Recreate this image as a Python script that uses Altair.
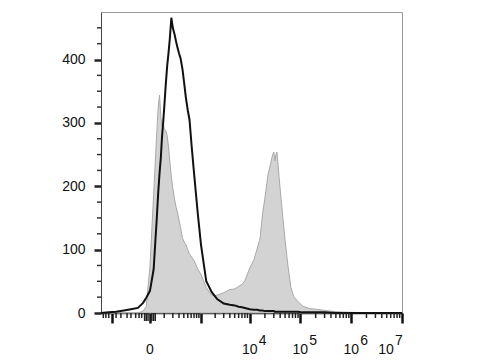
import altair as alt
import pandas as pd

# fluorescence intensity bins (data units)
intensity = [-900, -600, -400, -250, -150, -80, -40, -20, 0, 20,
             40, 50, 60, 70, 80, 90, 100, 115, 130, 145,
             160, 180, 200, 225, 250, 275, 300, 330, 370, 410,
             450, 500, 550, 620, 700, 850, 1000, 1300, 1700, 2200,
             3000, 4000, 5000, 6000, 7000, 8000, 10000, 12000, 14000, 16000,
             18000, 20000, 23000, 26000, 28000, 30000, 31500, 33000, 34500, 36000,
             38000, 40000, 45000, 50000, 57000, 65000, 75000, 90000, 110000, 150000,
             200000, 300000, 500000, 1000000, 3000000, 10000000]

# black outlined histogram
black_counts = [0, 1, 2, 4, 6, 8, 16, 24, 35, 69,
                150, 190, 221, 245, 278, 300, 324, 360, 390, 410,
                432, 466, 450, 440, 428, 418, 410, 402, 385, 362,
                340, 320, 305, 262, 221, 157, 108, 50, 33, 22,
                15, 13, 12, 10, 9, 8, 6, 5, 5, 4,
                4, 3, 3, 3, 3, 3, 2, 2, 2, 2,
                2, 2, 2, 2, 2, 2, 2, 2, 1, 1,
                1, 1, 0, 0, 0, 0]

# grey filled histogram
grey_counts = [0, 0, 0, 0, 0, 0, 3, 10, 73, 187,
               285, 325, 344, 310, 295, 300, 290, 288, 280, 262,
               240, 215, 196, 180, 167, 158, 147, 135, 118, 112,
               108, 100, 93, 88, 83, 69, 61, 40, 28, 28,
               32, 37, 38, 42, 45, 51, 71, 83, 101, 118,
               157, 182, 218, 236, 248, 254, 240, 250, 254, 238,
               215, 196, 152, 115, 74, 40, 25, 18, 11, 7,
               6, 4, 2, 1, 0, 0]

# axis ticks
x_major = [-500, 0, 1000, 10000, 100000, 1000000, 10000000]
x_medium = [-30, -20, -10, 10, 20, 30]
x_minor = [-800, -700, -600, -400, -300, -200, -150, -100, -70, -50,
           100, 200, 300, 400, 500, 600, 700, 800, 900,
           2000, 3000, 4000, 5000, 6000, 7000, 8000, 9000,
           20000, 30000, 40000, 50000, 60000, 70000, 80000, 90000,
           200000, 300000, 400000, 500000, 600000, 700000, 800000, 900000,
           2000000, 3000000, 4000000, 5000000, 6000000, 7000000, 8000000, 9000000]
y_major = [0, 100, 200, 300, 400]
y_minor = [25, 50, 75, 125, 150, 175, 225, 250, 275, 325, 350, 375, 425, 450]

label_vals = [0, 10000, 100000, 1000000]
label_base = ["0", "10", "10", "10"]
label_exp = ["", "4", "5", "6"]
last_label_val = [10000000]
last_label_exp = ["7"]

W, H = 301, 301

xscale = alt.Scale(type="symlog", constant=110, domain=[-900, 10000000], nice=False)
yscale = alt.Scale(domain=[0, 475], nice=False)

df_b = pd.DataFrame({"x": intensity, "count": black_counts})
df_g = pd.DataFrame({"x": intensity, "count": grey_counts})

xenc = alt.X("x:Q", scale=xscale,
             axis=alt.Axis(values=x_major, tickSize=10, tickWidth=2.5, tickColor="#111",
                           labels=False, title=None, grid=False, domainColor="#111",
                           domainWidth=1.5))
yenc = alt.Y("count:Q", scale=yscale,
             axis=alt.Axis(values=y_major, tickSize=7, tickWidth=2.5, tickColor="#222",
                           labelFontSize=14, labelPadding=9, labelColor="#111",
                           domainColor="#444", title=None, grid=False))

grey = alt.Chart(df_g).mark_area(fill="#d3d3d3", stroke="#a9a9a9", strokeWidth=1).encode(x=xenc, y=yenc)
black = alt.Chart(df_b).mark_line(color="#111111", strokeWidth=2).encode(x="x:Q", y="count:Q")

def xticks(vals, length, width):
    return alt.Chart(pd.DataFrame({"x": vals})).mark_rule(color="#222", strokeWidth=width).encode(
        x=alt.X("x:Q", scale=xscale), y=alt.value(H), y2=alt.value(H + length))

yt = alt.Chart(pd.DataFrame({"count": y_minor})).mark_rule(color="#333", strokeWidth=1.5).encode(
    y=alt.Y("count:Q", scale=yscale), x=alt.value(-4), x2=alt.value(0))

ldf = pd.DataFrame({"x": label_vals, "base": label_base, "exp": label_exp})
base_txt = alt.Chart(ldf).mark_text(fontSize=14, align="center", baseline="middle", color="#111").encode(
    x=alt.X("x:Q", scale=xscale), y=alt.value(H + 37), text="base:N")
exp_txt = alt.Chart(ldf).mark_text(fontSize=14, align="left", baseline="middle", dx=9, color="#111").encode(
    x=alt.X("x:Q", scale=xscale), y=alt.value(H + 28), text="exp:N")

ldf2 = pd.DataFrame({"x": last_label_val, "base": ["10"], "exp": last_label_exp})
base7 = alt.Chart(ldf2).mark_text(fontSize=14, align="center", baseline="middle", dx=-16, color="#111").encode(
    x=alt.X("x:Q", scale=xscale), y=alt.value(H + 37), text="base:N")
exp7 = alt.Chart(ldf2).mark_text(fontSize=14, align="left", baseline="middle", dx=-7, color="#111").encode(
    x=alt.X("x:Q", scale=xscale), y=alt.value(H + 28), text="exp:N")

chart = alt.layer(
    grey, black,
    xticks(x_minor, 5, 1.5), xticks(x_medium, 8, 1.5), yt,
    base_txt, exp_txt, base7, exp7,
).properties(
    width=W, height=H, autosize="none",
    padding={"left": 101, "top": 12, "right": 78, "bottom": 47},
    background="white",
).configure(font="Liberation Sans").configure_view(stroke="#999", strokeWidth=1)

chart.save("out.html", embed_options={"renderer": "svg", "actions": False})
